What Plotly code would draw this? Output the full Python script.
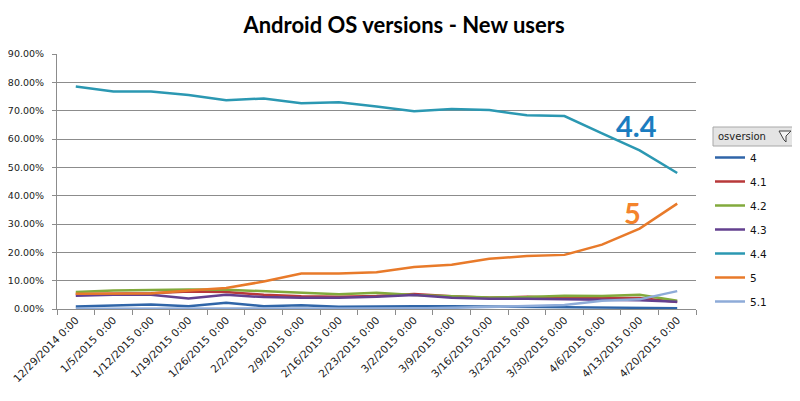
import plotly.graph_objects as go

weeks = ["12/29/2014 0:00", "1/5/2015 0:00", "1/12/2015 0:00", "1/19/2015 0:00",
         "1/26/2015 0:00", "2/2/2015 0:00", "2/9/2015 0:00", "2/16/2015 0:00",
         "2/23/2015 0:00", "3/2/2015 0:00", "3/9/2015 0:00", "3/16/2015 0:00",
         "3/23/2015 0:00", "3/30/2015 0:00", "4/6/2015 0:00", "4/13/2015 0:00",
         "4/20/2015 0:00"]

# share of new users per OS version, in percent
v4 = [0.9, 1.3, 1.6, 1.0, 2.2, 1.0, 1.3, 0.8, 1.0, 1.0, 1.0, 0.9, 0.8, 0.7, 0.7, 0.5, 0.3]
v41 = [5.3, 5.5, 5.6, 6.2, 6.0, 5.0, 4.5, 4.3, 4.6, 5.3, 4.5, 4.0, 4.3, 4.0, 3.9, 3.9, 2.5]
v42 = [6.0, 6.5, 6.7, 6.9, 6.8, 6.2, 5.8, 5.2, 5.7, 4.9, 4.5, 4.1, 4.2, 4.7, 4.6, 5.0, 2.9]
v43 = [4.7, 5.0, 5.0, 3.7, 5.0, 4.2, 4.0, 4.0, 4.3, 4.9, 4.0, 3.6, 3.6, 3.5, 3.4, 3.1, 2.6]
v44 = [78.5, 76.8, 76.8, 75.5, 73.7, 74.3, 72.6, 73.0, 71.5, 69.8, 70.6, 70.2, 68.4, 68.1, 62.0, 56.0, 48.0]
v5 = [5.4, 5.5, 5.5, 6.5, 7.4, 9.7, 12.5, 12.5, 13.0, 14.8, 15.6, 17.7, 18.7, 19.1, 22.7, 28.4, 37.2]
v51 = [0.1, 0.1, 0.1, 0.1, 0.1, 0.1, 0.1, 0.1, 0.1, 0.2, 0.4, 0.8, 1.2, 1.4, 2.9, 3.4, 6.3]

series = [
    ("4", v4, "#2f65a8"),
    ("4.1", v41, "#b8393a"),
    ("4.2", v42, "#82aa3c"),
    ("4.3", v43, "#63408f"),
    ("4.4", v44, "#2b98b2"),
    ("5", v5, "#e87a2a"),
    ("5.1", v51, "#8eabd8"),
]

fig = go.Figure()
for name, vals, color in series:
    fig.add_trace(go.Scatter(
        x=weeks, y=[v / 100 for v in vals], name=name, mode="lines",
        legendgroup=name, line=dict(color=color, width=2.5),
    ))

W, H = 792, 393  # page adds an 8px body margin around the figure

# plot area on the page is x 57..696, y 54..309
def px_x(p):
    return (p - 57) / 639

def px_y(p):
    return (309 - p) / 255

fig.add_annotation(x=px_x(636), y=px_y(125), xref="paper", yref="paper",
                   xanchor="center", yanchor="middle",
                   text="<b>4.4</b>", showarrow=False,
                   font=dict(family="Lato", size=29, color="#1b7cc0"))
fig.add_annotation(x=px_x(632), y=px_y(212), xref="paper", yref="paper",
                   xanchor="center", yanchor="middle",
                   text="<b>5</b>", showarrow=False,
                   font=dict(family="Lato", size=29, color="#f4832c"))

# legend header box with filter icon
fig.add_shape(type="rect", xref="paper", yref="paper",
              x0=px_x(713), x1=px_x(795), y0=px_y(146), y1=px_y(127),
              line=dict(color="#a8a8a8", width=1), fillcolor="#e4e4e4")
fig.add_annotation(x=px_x(716), y=px_y(136.5), xref="paper", yref="paper",
                   text="osversion", showarrow=False, xanchor="left", yanchor="middle",
                   font=dict(family="DejaVu Sans", size=10, color="#222"))
fig.add_shape(type="path", xref="paper", yref="paper",
              path="M {} {} L {} {} L {} {} L {} {} L {} {} Z".format(
                  px_x(779), px_y(131), px_x(791), px_y(131),
                  px_x(786), px_y(136), px_x(786), px_y(142),
                  px_x(784), px_y(140)),
              line=dict(color="#444", width=1), fillcolor="#f4f4f4")

fig.update_layout(
    width=W, height=H,
    margin=dict(l=49, r=104, t=46, b=92, autoexpand=False),
    paper_bgcolor="white", plot_bgcolor="white",
    font=dict(family="DejaVu Sans", size=10.5, color="#1a1a1a"),
    title=dict(text="<b>Android OS versions - New users</b>", x=0.5, xanchor="center",
               y=0.955, yanchor="middle",
               font=dict(family="Lato", size=22, color="#000")),
    legend=dict(xref="container", yref="container",
                x=(710 - 8) / W, y=1 - (143 - 8) / H, xanchor="left", yanchor="top",
                traceorder="grouped", tracegroupgap=5, itemwidth=30,
                font=dict(family="DejaVu Sans", size=10.5, color="#111"),
                bgcolor="rgba(0,0,0,0)"),
    xaxis=dict(type="category", range=[-0.5, len(weeks) - 0.5],
               tickangle=-45, showgrid=False, automargin=False,
               showline=True, linecolor="#8c8c8c", linewidth=1,
               ticks="outside", ticklen=5, tickcolor="#8c8c8c", tickson="boundaries",
               tickfont=dict(size=10.5)),
    yaxis=dict(range=[0, 0.9], dtick=0.1, tickformat=".2%", automargin=False,
               showgrid=True, gridcolor="#8c8c8c", gridwidth=1,
               showline=True, linecolor="#8c8c8c", linewidth=1,
               ticks="outside", ticklen=4, tickcolor="#8c8c8c",
               ticklabelstandoff=6,
               zeroline=False, tickfont=dict(size=9.5)),
)

fig.write_html("out.html")
